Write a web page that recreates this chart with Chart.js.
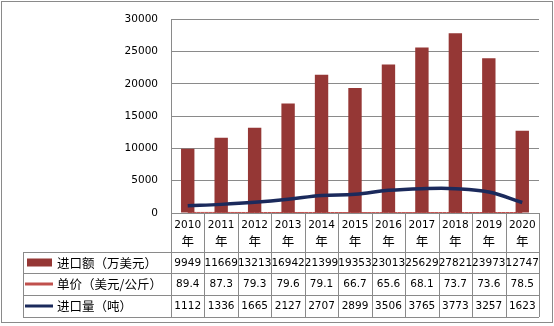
<!DOCTYPE html>
<html>
<head>
<meta charset="utf-8">
<script src="https://cdn.jsdelivr.net/npm/chart.js@4.4.1/dist/chart.umd.min.js"></script>
<style>
  html, body { margin: 0; padding: 0; background: #fff; }
  #wrap { position: relative; width: 554px; height: 326px; }
</style>
</head>
<body>
<div id="wrap"><canvas id="chart" width="554" height="326"></canvas></div>
<script>
// data
const years = ['2010', '2011', '2012', '2013', '2014', '2015', '2016', '2017', '2018', '2019', '2020'];
const importValue = [9949, 11669, 13213, 16942, 21399, 19353, 23013, 25629, 27821, 23973, 12747];
const unitPrice = [89.4, 87.3, 79.3, 79.6, 79.1, 66.7, 65.6, 68.1, 73.7, 73.6, 78.5];
const importVolume = [1112, 1336, 1665, 2127, 2707, 2899, 3506, 3765, 3773, 3257, 1623];
const seriesNames = ['进口额（万美元）', '单价（美元/公斤）', '进口量（吨）'];

const BAR_COLOR = '#953735';
const PRICE_COLOR = '#C0504D';
const VOLUME_COLOR = '#1B2A5C';
const GRID = '#8a8a8a';
const NUM_FONT = '10.5px "DejaVu Sans"';
const CJK_FONT = '12.5px "Noto Sans CJK SC"';

// rows of the data table under the plot
const rowLines = [252, 273, 295, 317];
const tableLeft = 23;

function hline(ctx, x1, x2, y) {
    y = Math.round(y) + 0.5;
    ctx.beginPath(); ctx.moveTo(x1, y); ctx.lineTo(x2, y); ctx.stroke();
}
function vline(ctx, x, y1, y2) {
    x = Math.round(x) + 0.5;
    ctx.beginPath(); ctx.moveTo(x, y1); ctx.lineTo(x, y2); ctx.stroke();
}

const dataTable = {
    id: 'dataTable',
    afterDraw(chart) {
        const ctx = chart.ctx;
        const area = chart.chartArea;
        const xs = chart.scales.x;
        const n = years.length;
        const step = (area.right - area.left) / n;
        ctx.save();
        ctx.strokeStyle = GRID;
        ctx.lineWidth = 1;

        // grid of the table
        hline(ctx, area.left, area.right, area.bottom);
        rowLines.forEach(y => hline(ctx, tableLeft, area.right, y));
        vline(ctx, tableLeft, rowLines[0], rowLines[3]);
        for (let i = 0; i <= n; i++) {
            vline(ctx, area.left + i * step, area.bottom, rowLines[3]);
        }

        // header: years
        ctx.fillStyle = '#000';
        ctx.textAlign = 'center';
        ctx.textBaseline = 'middle';
        years.forEach((yr, i) => {
            const cx = xs.getPixelForValue(i);
            ctx.font = NUM_FONT;
            ctx.fillText(yr, cx, 225);
            ctx.font = CJK_FONT;
            ctx.fillText('年', cx, 241);
        });

        // values
        const rows = [importValue, unitPrice, importVolume];
        ctx.font = NUM_FONT;
        rows.forEach((vals, r) => {
            const cy = (rowLines[r] + rowLines[r + 1]) / 2 + 0.5;
            vals.forEach((v, i) => {
                ctx.fillText(String(v), xs.getPixelForValue(i), cy);
            });
        });

        // legend keys + names
        ctx.textAlign = 'left';
        ctx.font = CJK_FONT;
        rows.forEach((vals, r) => {
            const cy = (rowLines[r] + rowLines[r + 1]) / 2;
            if (r === 0) {
                ctx.fillStyle = BAR_COLOR;
                ctx.fillRect(27, cy - 4, 25, 8);
            } else {
                ctx.strokeStyle = r === 1 ? PRICE_COLOR : VOLUME_COLOR;
                ctx.lineWidth = 3;
                ctx.beginPath(); ctx.moveTo(25, cy); ctx.lineTo(53, cy); ctx.stroke();
            }
            ctx.fillStyle = '#000';
            ctx.fillText(seriesNames[r], 57, cy + 0.5);
        });

        // outer frame
        ctx.strokeStyle = GRID;
        ctx.lineWidth = 1;
        ctx.strokeRect(1.5, 1.5, 551, 321);
        ctx.restore();
    }
};

new Chart(document.getElementById('chart'), {
    data: {
        labels: years,
        datasets: [
            {
                type: 'line',
                label: seriesNames[2],
                data: importVolume,
                borderColor: VOLUME_COLOR,
                borderWidth: 3.5,
                pointRadius: 0,
                tension: 0.4,
                order: 1
            },
            {
                type: 'line',
                label: seriesNames[1],
                data: unitPrice,
                borderColor: PRICE_COLOR,
                borderWidth: 1,
                pointRadius: 0,
                tension: 0.4,
                order: 4
            },
            {
                type: 'bar',
                label: seriesNames[0],
                data: importValue,
                backgroundColor: BAR_COLOR,
                categoryPercentage: 1,
                barPercentage: 0.4,
                order: 3
            }
        ]
    },
    options: {
        responsive: false,
        animation: false,
        events: [],
        layout: { padding: { top: 15, right: 15, bottom: 113, left: 0 } },
        plugins: { legend: { display: false }, tooltip: { enabled: false } },
        scales: {
            x: { display: false },
            y: {
                min: 0,
                max: 30000,
                afterFit: s => { s.width = 171; },
                ticks: {
                    stepSize: 5000,
                    padding: 13,
                    color: '#000',
                    font: { family: 'DejaVu Sans', size: 10.5 },
                    callback: v => String(v)
                },
                grid: { color: GRID, drawTicks: false },
                border: { color: GRID }
            }
        }
    },
    plugins: [dataTable]
});
</script>
</body>
</html>
